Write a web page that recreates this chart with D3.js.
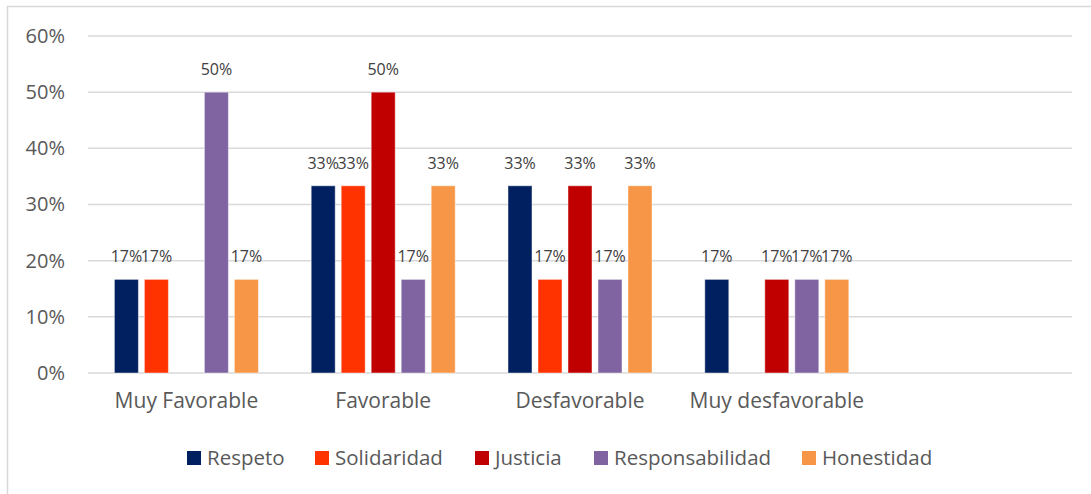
<!DOCTYPE html>
<html>
<head>
<meta charset="utf-8">
<script src="https://cdn.jsdelivr.net/npm/d3@7"></script>
<style>
  html, body { margin: 0; padding: 0; background: #fff; }
  svg { display: block; font-family: "Open Sans", "Noto Sans", sans-serif; }
</style>
</head>
<body>
<svg id="chart" width="1091" height="494"></svg>
<script>
// Categories on the x axis (the last slot is an empty category)
const categories = ["Muy Favorable", "Favorable", "Desfavorable", "Muy desfavorable", ""];
const seriesNames = ["Respeto", "Solidaridad", "Justicia", "Responsabilidad", "Honestidad"];
const seriesColors = ["#002060", "#FF3300", "#C00000", "#8064A2", "#F79646"];

// Share of answers per series, one value per category (null = no answer)
const respeto         = [1/6, 1/3, 1/3, 1/6, null];
const solidaridad     = [1/6, 1/3, 1/6, null, null];
const justicia        = [null, 1/2, 1/3, 1/6, null];
const responsabilidad = [1/2, 1/6, 1/6, 1/6, null];
const honestidad      = [1/6, 1/3, 1/3, 1/6, null];

const yTicks = [0, 0.1, 0.2, 0.3, 0.4, 0.5, 0.6];

const seriesValues = [respeto, solidaridad, justicia, responsabilidad, honestidad];

const svg = d3.select("#chart");
const textColor = "#595959";
const gridColor = "#D9D9D9";

// Chart area frame
svg.append("rect")
  .attr("x", 7.5).attr("y", 6.5)
  .attr("width", 1200).attr("height", 600)
  .attr("fill", "none")
  .attr("stroke", "#D9D9D9")
  .attr("stroke-width", 1.5);

const plot = { left: 88, right: 1072, top: 36, bottom: 373 };

const x0 = d3.scaleBand()
  .domain(d3.range(categories.length))
  .range([plot.left, plot.right])
  .padding(0);

const x1 = d3.scaleBand()
  .domain(d3.range(seriesNames.length))
  .range([0, x0.bandwidth()])
  .paddingInner(0.2)
  .paddingOuter(0.88);

const y = d3.scaleLinear()
  .domain([0, 0.6])
  .range([plot.bottom, plot.top]);

// Horizontal gridlines
svg.append("g")
  .selectAll("line")
  .data(yTicks)
  .join("line")
  .attr("x1", plot.left).attr("x2", plot.right)
  .attr("y1", d => y(d)).attr("y2", d => y(d))
  .attr("stroke", gridColor)
  .attr("stroke-width", 1.5);

// Y axis labels
const yAxis = d3.axisLeft(y)
  .tickValues(yTicks)
  .tickFormat(d3.format(".0%"))
  .tickSize(0)
  .tickPadding(23);
const yAxisG = svg.append("g")
  .attr("transform", `translate(${plot.left},0)`)
  .call(yAxis);
yAxisG.select(".domain").remove();
yAxisG.selectAll("text")
  .attr("fill", textColor)
  .style("font-size", "20px")
  .style("font-family", "'Open Sans', sans-serif");

// X axis category labels
const xAxis = d3.axisBottom(x0)
  .tickFormat(i => categories[i])
  .tickSize(0)
  .tickPadding(20);
const xAxisG = svg.append("g")
  .attr("transform", `translate(0,${plot.bottom})`)
  .call(xAxis);
xAxisG.select(".domain").remove();
xAxisG.selectAll("text")
  .attr("fill", textColor)
  .style("font-size", "21px")
  .style("font-family", "'Open Sans', sans-serif");

// Bars
const barData = [];
categories.forEach((c, ci) => {
  seriesValues.forEach((vals, si) => {
    if (vals[ci] != null) barData.push({ ci, si, v: vals[ci] });
  });
});

const groups = svg.append("g");
groups.selectAll("rect")
  .data(barData)
  .join("rect")
  .attr("x", d => x0(d.ci) + x1(d.si))
  .attr("y", d => y(d.v))
  .attr("width", x1.bandwidth())
  .attr("height", d => y(0) - y(d.v))
  .attr("fill", d => seriesColors[d.si])
  .attr("stroke", "#ffffff")
  .attr("stroke-opacity", 0.45)
  .attr("stroke-width", 1);

// Value labels
groups.selectAll("text")
  .data(barData)
  .join("text")
  .attr("x", d => x0(d.ci) + x1(d.si) + x1.bandwidth() / 2)
  .attr("y", d => y(d.v) - 17)
  .attr("text-anchor", "middle")
  .attr("fill", "#404040")
  .style("font-size", "16px")
  .text(d => d3.format(".0%")(d.v));

// Legend
const legendX = [187, 315, 475, 594, 802];
const legend = svg.append("g");
const items = legend.selectAll("g")
  .data(seriesNames)
  .join("g")
  .attr("transform", (d, i) => `translate(${legendX[i]},451)`);
items.append("rect")
  .attr("width", 14).attr("height", 14)
  .attr("fill", (d, i) => seriesColors[i]);
items.append("text")
  .attr("x", 20).attr("y", 14)
  .attr("fill", textColor)
  .style("font-size", "20.5px")
  .text(d => d);
</script>
</body>
</html>
